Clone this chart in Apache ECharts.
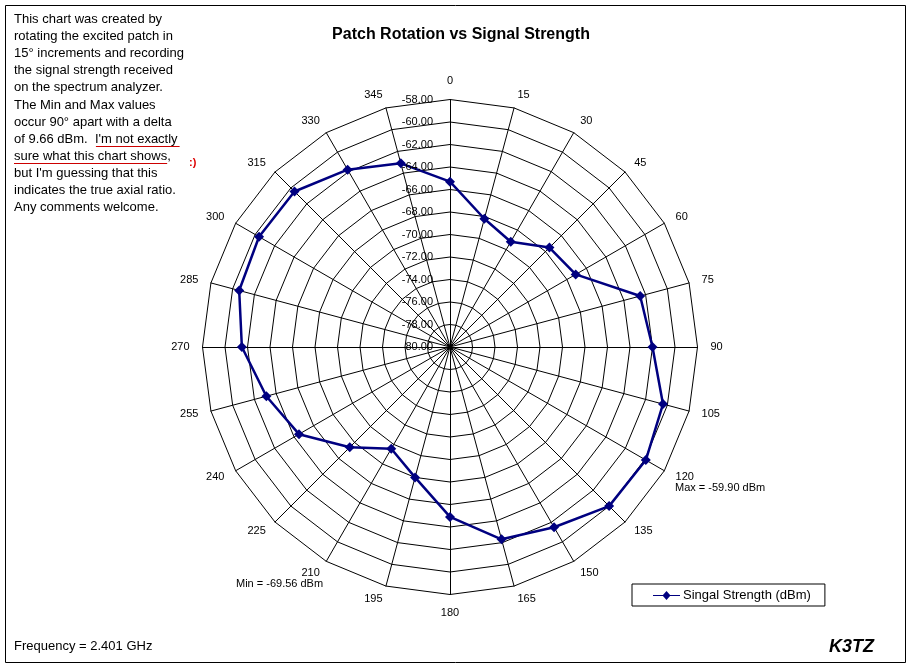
<!DOCTYPE html>
<html>
<head>
<meta charset="utf-8">
<script src="https://cdn.jsdelivr.net/npm/echarts@6/dist/echarts.min.js"></script>
<style>
html,body{margin:0;padding:0;background:#fff;}
#c{width:911px;height:668px;}
</style>
</head>
<body>
<div id="c"></div>
<script>
// Data (angles in degrees, signal strength in dBm)
const angles = ['0','15','30','45','60','75','90','105','120','135','150','165','180','195','210','225','240','255','270','285','300','315','330','345'];
const signal = [-65.3,-68.2,-69.2,-67.5,-67.1,-62.5,-62.0,-60.4,-59.9,-60.0,-61.5,-62.3,-64.9,-68.0,-69.56,-67.4,-64.5,-63.1,-61.5,-60.6,-60.4,-60.45,-61.8,-63.1];
const radialMin = -80, radialMax = -58, radialStep = 2;
const seriesName = 'Singal Strength (dBm)';
const noteLines = [
  'This chart was created by',
  'rotating the excited patch in',
  '15° increments and recording',
  'the signal strength received',
  'on the spectrum analyzer.',
  'The Min and Max values',
  'occur 90° apart with a delta',
  "of 9.66 dBm.  I'm not exactly",
  'sure what this chart shows,',
  "but I'm guessing that this",
  'indicates the true axial ratio.',
  'Any comments welcome.'
];

const FONT = '"Liberation Sans", Arial, sans-serif';
// ECharts radar places indicators counter-clockwise; reorder to get clockwise
const order = angles.map((_, i) => (angles.length - i) % angles.length);
const indicator = order.map(i => ({ name: angles[i], min: radialMin, max: radialMax }));
const values = order.map(i => signal[i]);

const cx = 450, cy = 347, R = 247.5;

const mctx = document.createElement('canvas').getContext('2d');
mctx.font = '13px ' + FONT;
const mw = s => mctx.measureText(s).width;

const noteLeft = 14, noteTop = 13, noteLH = 17.1;
const graphics = [
  { type: 'rect', shape: { x: 5.5, y: 5.5, width: 900, height: 657 }, style: { fill: 'none', stroke: '#000', lineWidth: 1 }, z: 100 }
];
noteLines.forEach((t, i) => {
  graphics.push({ type: 'text', left: noteLeft, top: noteTop + i * noteLH, style: { text: t, font: '13px ' + FONT, fill: '#000' } });
});
const u1a = noteLeft + mw("of 9.66 dBm.  "), u1b = noteLeft + mw("of 9.66 dBm.  I'm not exactly");
const u2b = noteLeft + mw('sure what this chart shows');
graphics.push({ type: 'line', shape: { x1: u1a + 1, y1: 146.5, x2: u1b + 2, y2: 146.5 }, style: { stroke: '#cc0000', lineWidth: 1 } });
graphics.push({ type: 'line', shape: { x1: noteLeft, y1: 163.5, x2: u2b, y2: 163.5 }, style: { stroke: '#cc0000', lineWidth: 1 } });
graphics.push({ type: 'text', left: 189, top: 157, style: { text: ':)', font: 'bold 11px ' + FONT, fill: '#dd0000' } });
graphics.push({ type: 'text', left: 675, top: 482, style: { text: 'Max = -59.90 dBm', font: '11px ' + FONT, fill: '#000' } });
graphics.push({ type: 'text', left: 236, top: 578, style: { text: 'Min = -69.56 dBm', font: '11px ' + FONT, fill: '#000' } });
graphics.push({ type: 'text', left: 14, top: 640, style: { text: 'Frequency = 2.401 GHz', font: '13px ' + FONT, fill: '#000' } });
graphics.push({ type: 'text', left: 829, top: 638, style: { text: 'K3TZ', font: 'italic bold 18px ' + FONT, fill: '#000' } });

const chart = echarts.init(document.getElementById('c'));
chart.setOption({
  backgroundColor: '#fff',
  animation: false,
  title: {
    text: 'Patch Rotation vs Signal Strength',
    left: 456, top: 22, textAlign: 'center',
    textStyle: { fontFamily: FONT, fontSize: 16, fontWeight: 'bold', color: '#000' }
  },
  legend: {
    left: 632, top: 584,
    orient: 'horizontal',
    data: [{ name: seriesName, icon: 'path://M0,4.4L10,4.4L10,5.6L0,5.6Z M17,4.4L27,4.4L27,5.6L17,5.6Z M13.5,0.5L17.5,5L13.5,9.5L9.5,5Z' }],
    itemWidth: 27, itemHeight: 9, itemGap: 0,
    padding: [5, 14, 4, 21],
    borderColor: '#000', borderWidth: 1, borderRadius: 0,
    textStyle: { fontFamily: FONT, fontSize: 13, color: '#000', padding: [0, 0, 0, -2] }
  },
  radar: {
    center: [cx, cy],
    radius: R,
    startAngle: 90,
    shape: 'polygon',
    splitNumber: (radialMax - radialMin) / radialStep,
    indicator: indicator,
    axisName: { color: '#000', fontFamily: FONT, fontSize: 11 },
    nameGap: 13,
    axisLine: { lineStyle: { color: '#000', width: 1 } },
    splitLine: { lineStyle: { color: '#000', width: 1 } },
    splitArea: { show: false },
    axisTick: { show: false },
    axisLabel: { show: false }
  },
  polar: { center: [cx, cy], radius: R },
  angleAxis: { type: 'value', startAngle: 90, min: 0, max: 360, show: false },
  radiusAxis: {
    type: 'value', min: radialMin, max: radialMax, interval: radialStep,
    axisLine: { show: false }, axisTick: { show: false }, splitLine: { show: false },
    axisLabel: { show: true, formatter: v => v.toFixed(2), color: '#000', fontFamily: FONT, fontSize: 11, margin: 17 },
    z: 10
  },
  series: [{
    name: seriesName,
    type: 'radar',
    symbol: 'diamond',
    symbolSize: 10,
    lineStyle: { color: '#000080', width: 2.5 },
    itemStyle: { color: '#000080' },
    data: [{ value: values, name: seriesName }]
  }],
  graphic: graphics
});
</script>
</body>
</html>
